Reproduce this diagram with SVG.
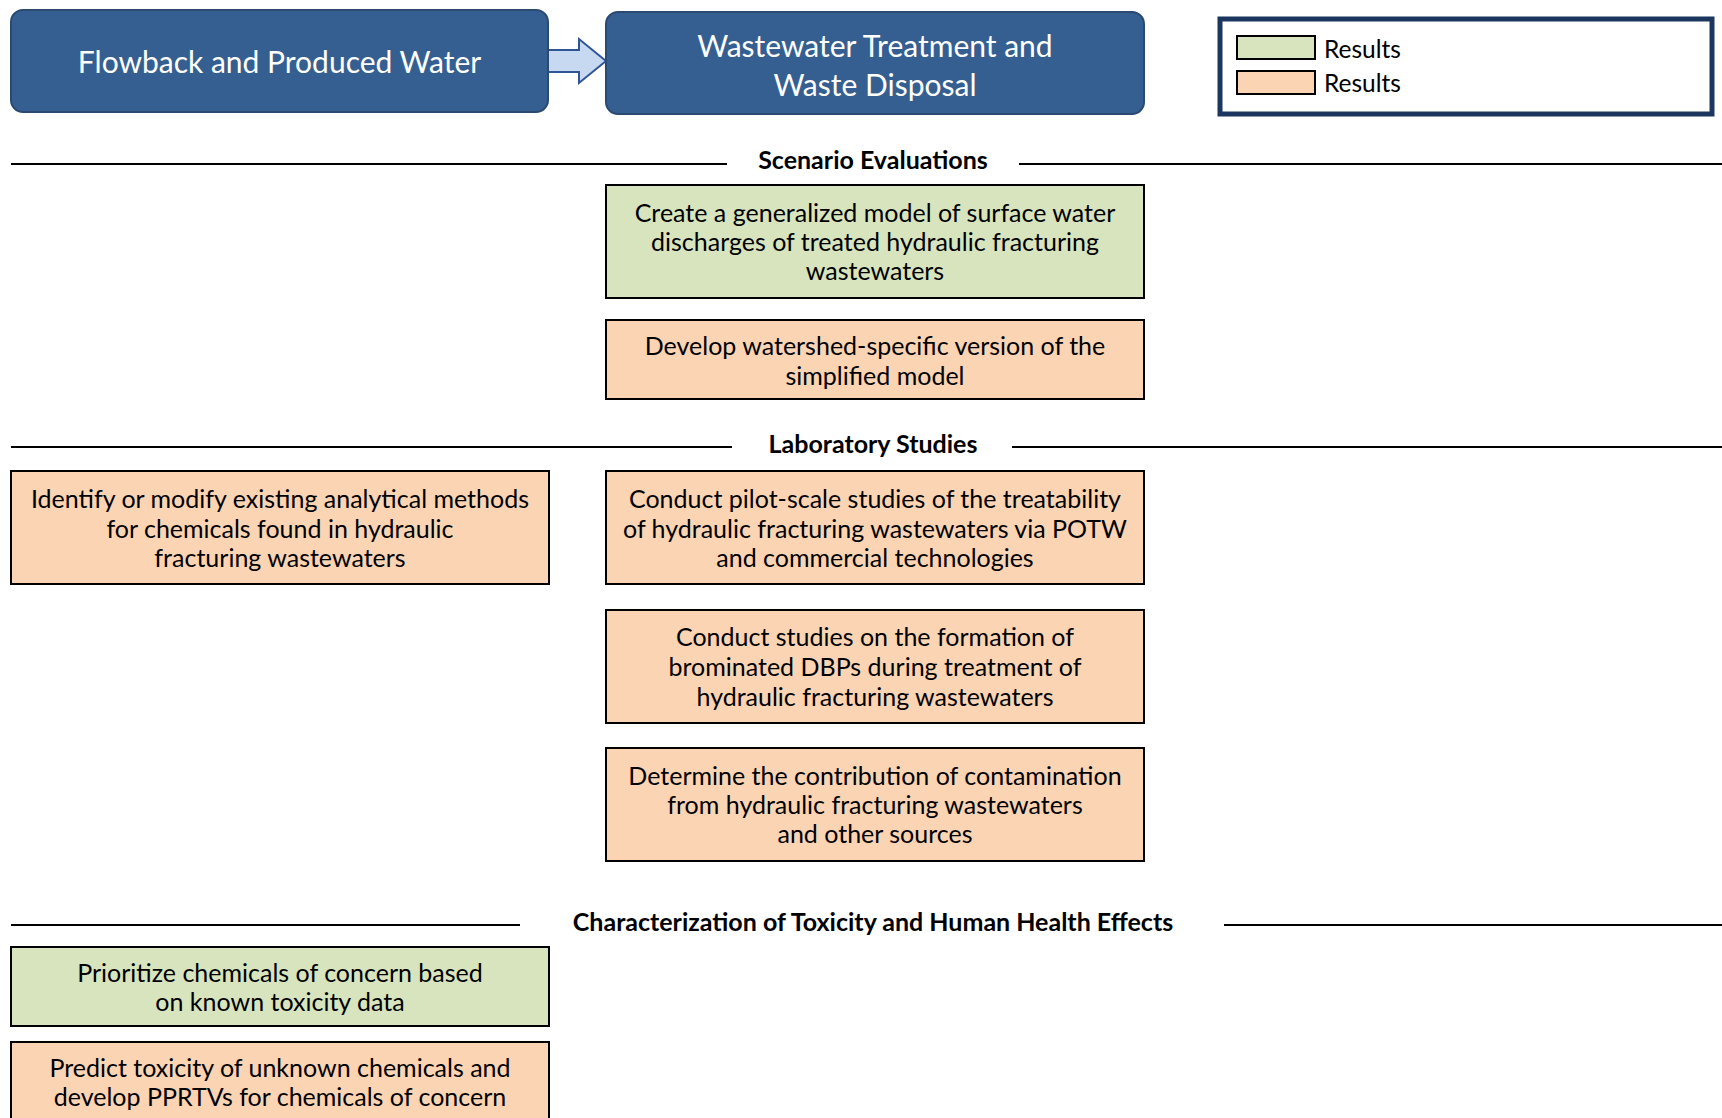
<svg xmlns="http://www.w3.org/2000/svg" width="1722" height="1118" viewBox="0 0 1722 1118">
<style>
.blue{fill:#365F91;stroke:#2A4A72;stroke-width:2}
.green{fill:#D7E4BD;stroke:#000;stroke-width:2}
.orange{fill:#FBD4B4;stroke:#000;stroke-width:2}
.rule{stroke:#000;stroke-width:2;fill:none}
text{font-family:Lato,"Open Sans","Liberation Sans",sans-serif;text-anchor:middle}
.t{font-size:25px;fill:#000}
.h{font-size:30px;fill:#fff}
.hd{font-size:25px;font-weight:bold;fill:#000}
.lg{font-size:24.5px;fill:#000;text-anchor:start}
</style>
<rect width="1722" height="1118" fill="#fff"/>
<g id="connectors">
<path d="M548,50 H579 V39 L606,61 L579,83 V72 H548 Z" fill="#C6D9F1" stroke="#2F5597" stroke-width="2"/>
</g>
<g id="flowback">
<rect class="blue" x="11" y="10" width="537" height="102" rx="12"/>
<text class="h" x="279.5" y="73">Flowback and Produced Water</text>
</g>
<g id="wastewater">
<rect class="blue" x="606" y="12" width="538" height="102" rx="12"/>
<text class="h" x="875" y="57">Wastewater Treatment and</text>
<text class="h" x="875" y="96">Waste Disposal</text>
</g>
<g id="legend">
<rect x="1220" y="19" width="492" height="95" fill="#fff" stroke="#1B365F" stroke-width="5"/>
<rect class="green" x="1237" y="36" width="78" height="23"/>
<text class="lg" x="1324" y="58">Results</text>
<rect class="orange" x="1237" y="71" width="78" height="23"/>
<text class="lg" x="1324" y="92">Results</text>
</g>
<g id="heading-scenario">
<line class="rule" x1="11" y1="164" x2="727" y2="164"/>
<line class="rule" x1="1019" y1="164" x2="1722" y2="164"/>
<text class="hd" x="873" y="169">Scenario Evaluations</text>
</g>
<g id="n-model">
<rect class="green" x="606" y="185" width="538" height="113"/>
<text class="t" x="875" y="222">Create a generalized model of surface water</text>
<text class="t" x="875" y="251">discharges of treated hydraulic fracturing</text>
<text class="t" x="875" y="280">wastewaters</text>
</g>
<g id="n-watershed">
<rect class="orange" x="606" y="320" width="538" height="79"/>
<text class="t" x="875" y="355">Develop watershed-specific version of the</text>
<text class="t" x="875" y="385">simplified model</text>
</g>
<g id="heading-lab">
<line class="rule" x1="11" y1="447" x2="732" y2="447"/>
<line class="rule" x1="1012" y1="447" x2="1722" y2="447"/>
<text class="hd" x="873" y="453">Laboratory Studies</text>
</g>
<g id="n-analytical">
<rect class="orange" x="11" y="471" width="538" height="113"/>
<text class="t" x="280" y="508">Identify or modify existing analytical methods</text>
<text class="t" x="280" y="537.5">for chemicals found in hydraulic</text>
<text class="t" x="280" y="567">fracturing wastewaters</text>
</g>
<g id="n-pilot">
<rect class="orange" x="606" y="471" width="538" height="113"/>
<text class="t" x="875" y="508">Conduct pilot-scale studies of the treatability</text>
<text class="t" x="875" y="537.5">of hydraulic fracturing wastewaters via POTW</text>
<text class="t" x="875" y="567">and commercial technologies</text>
</g>
<g id="n-dbp">
<rect class="orange" x="606" y="610" width="538" height="113"/>
<text class="t" x="875" y="646">Conduct studies on the formation of</text>
<text class="t" x="875" y="676">brominated DBPs during treatment of</text>
<text class="t" x="875" y="705.5">hydraulic fracturing wastewaters</text>
</g>
<g id="n-contribution">
<rect class="orange" x="606" y="748" width="538" height="113"/>
<text class="t" x="875" y="784.5">Determine the contribution of contamination</text>
<text class="t" x="875" y="814">from hydraulic fracturing wastewaters</text>
<text class="t" x="875" y="843">and other sources</text>
</g>
<g id="heading-tox">
<line class="rule" x1="11" y1="925" x2="520" y2="925"/>
<line class="rule" x1="1224" y1="925" x2="1722" y2="925"/>
<text class="hd" x="873" y="931">Characterization of Toxicity and Human Health Effects</text>
</g>
<g id="n-prioritize">
<rect class="green" x="11" y="947" width="538" height="79"/>
<text class="t" x="280" y="982">Prioritize chemicals of concern based</text>
<text class="t" x="280" y="1011">on known toxicity data</text>
</g>
<g id="n-predict">
<rect class="orange" x="11" y="1042" width="538" height="90"/>
<text class="t" x="280" y="1077">Predict toxicity of unknown chemicals and</text>
<text class="t" x="280" y="1106">develop PPRTVs for chemicals of concern</text>
</g>
</svg>
